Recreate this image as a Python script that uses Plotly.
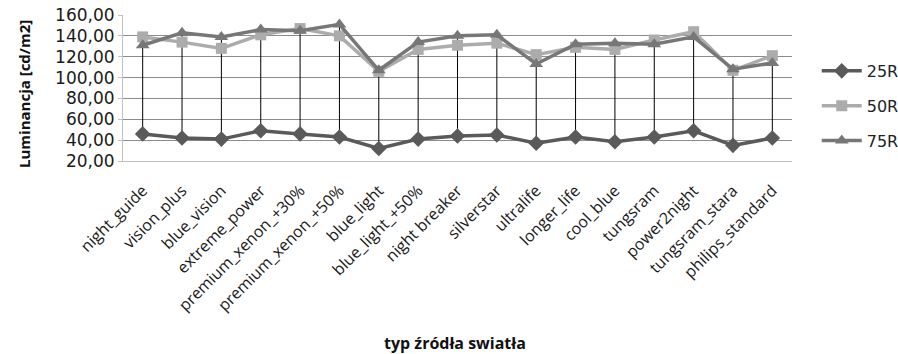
import plotly.graph_objects as go

categories = ["night_guide", "vision_plus", "blue_vision", "extreme_power",
              "premium_xenon_+30%", "premium_xenon_+50%", "blue_light",
              "blue_light_+50%", "night breaker", "silverstar", "ultralife",
              "longer_life", "cool_blue", "tungsram", "power2night",
              "tungsram_stara", "philips_standard"]

r25 = [46, 42, 41, 49, 46, 43, 32, 41, 44, 45, 37, 43, 38.5, 43, 49, 35, 42]
r50 = [139, 134, 128, 141, 147, 140, 106, 127, 131, 133, 122, 129, 127, 136, 144, 107, 121]
r75 = [131, 143, 139, 146, 145, 151, 107, 134, 140, 141, 113, 132, 133, 132, 139, 108, 114]

series_names = ["25R", "50R", "75R"]
y_tick_vals = [20, 40, 60, 80, 100, 120, 140, 160]
y_tick_text = ["20,00", "40,00", "60,00", "80,00", "100,00", "120,00", "140,00", "160,00"]

x_title = "typ źródła swiatła"
y_title = "Luminancja [cd/m2]"

# high-low lines built from the series
all_series = [r25, r50, r75]
hl_x, hl_y = [], []
for i, c in enumerate(categories):
    vals = [s[i] for s in all_series]
    hl_x += [c, c, None]
    hl_y += [max(vals), min(vals), None]

fig = go.Figure()
fig.add_trace(go.Scatter(x=hl_x, y=hl_y, mode="lines",
                         line=dict(color="black", width=1),
                         showlegend=False, hoverinfo="skip"))

styles = [
    dict(color="#5a5a5a", symbol="diamond", size=12),
    dict(color="#acacac", symbol="square", size=11),
    dict(color="#777777", symbol="triangle-up", size=12),
]
for name, vals, st in zip(series_names, all_series, styles):
    fig.add_trace(go.Scatter(
        x=categories, y=vals, mode="lines+markers", name=name, legendgroup=name,
        line=dict(color=st["color"], width=3.5),
        marker=dict(color=st["color"], symbol=st["symbol"], size=st["size"]),
    ))

font_main = "DejaVu Sans"
fig.update_layout(
    width=898, height=354,
    margin=dict(l=123, r=106, t=15, b=193, autoexpand=False),
    paper_bgcolor="white", plot_bgcolor="white",
    font=dict(family=font_main, color="#222222"),
    legend=dict(x=0.037 + 1, y=0.377, xanchor="left", yanchor="middle",
                font=dict(size=16, family=font_main, color="#222222"),
                tracegroupgap=11, itemwidth=40, bgcolor="rgba(0,0,0,0)"),
    xaxis=dict(
        type="category", categoryorder="array", categoryarray=categories,
        tickangle=-45, tickfont=dict(size=16, family="Open Sans", color="#1a1a1a"),
        showgrid=False, showline=True, linecolor="#c0c0c0", linewidth=1,
        ticks="outside", ticklen=13, tickcolor="rgba(0,0,0,0)",
        range=[-0.5, len(categories) - 0.5], automargin=False,
    ),
    yaxis=dict(
        range=[20, 160], tickvals=y_tick_vals, ticktext=y_tick_text,
        tickfont=dict(size=17, family=font_main, color="#1a1a1a"),
        showgrid=True, gridcolor="#8c8c8c", gridwidth=1,
        showline=True, linecolor="#c0c0c0", linewidth=1,
        ticks="outside", ticklen=4, tickcolor="#c0c0c0", zeroline=False,
        automargin=False,
    ),
    annotations=[
        dict(text="<b>" + x_title + "</b>", xref="paper", yref="paper",
             x=(455 - 123) / 669, y=(354 - 343 - 193) / 146,
             xanchor="center", yanchor="middle", showarrow=False,
             font=dict(size=16, family="Open Sans", color="#111111")),
        dict(text="<b>" + y_title + "</b>", xref="paper", yref="paper",
             x=(24 - 123) / 669, y=(161 - 94) / 146, textangle=-90,
             xanchor="center", yanchor="middle", showarrow=False,
             font=dict(size=15, family="Open Sans", color="#111111")),
    ],
)

fig.write_html("out.html", config={"displayModeBar": False},
               post_script="document.body.style.margin='0';document.body.style.overflow='hidden';")
